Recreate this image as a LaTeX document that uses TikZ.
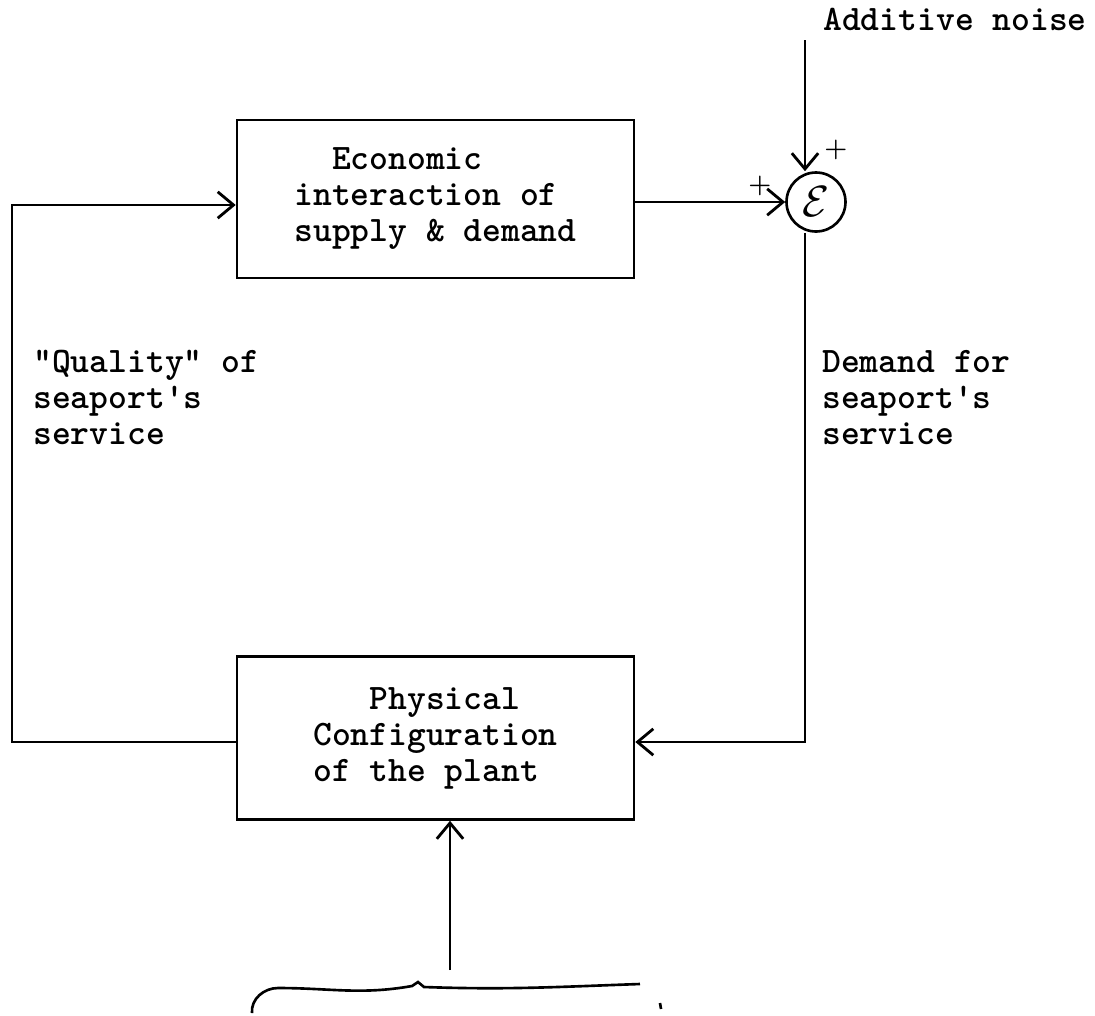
\documentclass[tikz,border=0pt]{standalone}
\usepackage{tikz}
\usetikzlibrary{calc, positioning, arrows.meta}

\begin{document}
\begin{tikzpicture}[
  x=0.02cm, y=-0.02cm,
  font=\ttfamily\bfseries\fontsize{20.4}{20.5}\selectfont,
  block/.style={draw, line width=1.5pt, align=left, inner sep=0pt, minimum width=7.94cm},
  arr/.style={-{Straight Barb[length=9pt, width=15pt, line width=1.6pt]}, line width=1.6pt},
  lbl/.style={align=left, inner sep=0pt, anchor=north west},
  sgn/.style={font=\bfseries\fontsize{15}{15}\selectfont, inner sep=0pt}
]
\useasboundingbox (0,0) rectangle (1095,1015);

\node[block, minimum height=3.16cm] (econ) at (435.5,199) {\phantom{in}Economic\\interaction of\\supply \& demand};
\node[block, minimum height=3.26cm] (plant) at (435.5,738) {\phantom{Con}Physical\\Configuration\\of the plant};
\node[circle, draw, line width=1.5pt, minimum size=1.18cm, inner sep=0pt] (sum) at (816,202) {\fontsize{26}{26}\selectfont$\mathcal{E}$};

\coordinate (noise) at (805,40);
\coordinate (rc) at (805,742);
\coordinate (lc) at (12,742);
\coordinate (tc) at (12,205);
\coordinate (input) at (450,970);

\node[anchor=base west, inner sep=0pt] (noiselbl) at (823,30) {Additive noise};
\node[lbl] (quality) at (33,350) {\textquotedbl Quality\textquotedbl{} of\\seaport\textquotesingle s\\service};
\node[lbl] (demand) at (822,350) {Demand for\\seaport\textquotesingle s\\service};
\node[sgn] (plusin) at (760,186) {+};
\node[sgn] (plusnoise) at (836,150) {+};

\draw[arr] (noise) -- (noise |- sum.north);
\draw[arr] (econ.east |- sum.west) -- (sum.west);
\draw[arr] (sum.south -| rc) -- (rc) -- (rc -| plant.east);
\draw[arr] (lc -| plant.west) -- (lc) -- (tc) -- (tc -| econ.west);
\draw[arr] (input) -- (input |- plant.south);

% hand drawn brace under the input
\draw[line width=1.5pt] (252,1013) to[out=95,in=180] (278,988) to[out=0,in=190] (412,986) -- (418,982) -- (424,987) to[out=-2,in=182] (640,984);
\draw[line width=1.5pt] (660,1003) -- (661,1009);

\end{tikzpicture}
\end{document}
